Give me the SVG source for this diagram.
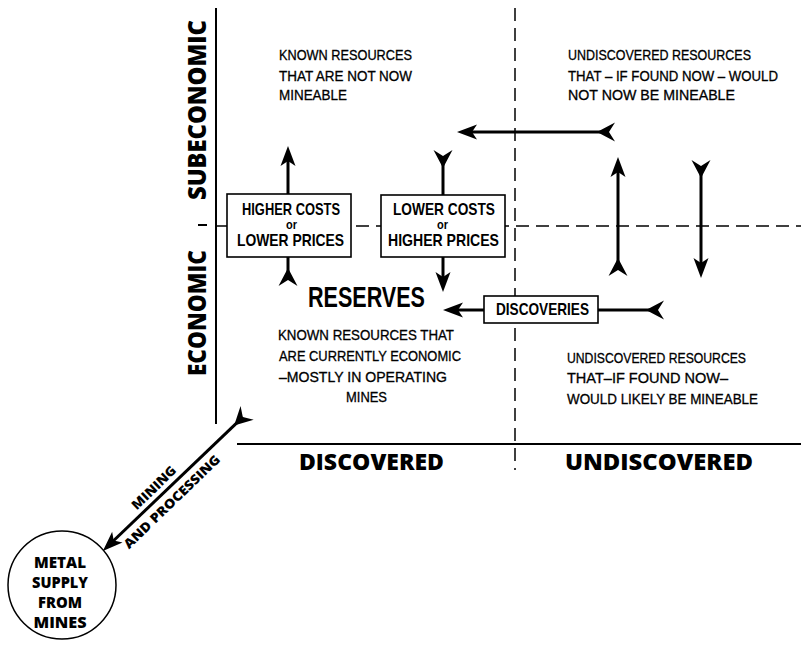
<svg xmlns="http://www.w3.org/2000/svg" width="801" height="645" viewBox="0 0 801 645">
<style>
.axis{stroke:#000;stroke-width:2;fill:none}
.dash{stroke:#000;stroke-width:1.5;stroke-dasharray:13 7;fill:none}
.arrow{stroke:#000;stroke-width:3;fill:none}
.head{marker-end:url(#head)}
.tl{marker-start:url(#tail)}
.box{fill:#fff;stroke:#000;stroke-width:1.6}
.t{font-family:"Liberation Sans",Arial,sans-serif;font-size:14px;fill:#000;stroke:#000;stroke-width:0.3}
.bx{font-family:"Liberation Sans",Arial,sans-serif;font-weight:bold;fill:#000}
.b18{font-size:17px}
.b28{font-size:29px}
.bor{font-size:12px}
.big{font-family:"Open Sans","DejaVu Sans",sans-serif;font-weight:800;fill:#000}
</style>
<defs>
<marker id="head" markerUnits="userSpaceOnUse" orient="auto" markerWidth="40" markerHeight="40" viewBox="-20 -20 40 40" refX="0" refY="0" overflow="visible">
<path d="M10,0 L-10,-7.5 L-5,0 L-10,7.5 Z" fill="#000"/>
</marker>
<marker id="tail" markerUnits="userSpaceOnUse" orient="auto" markerWidth="40" markerHeight="40" viewBox="-20 -20 40 40" refX="0" refY="0" overflow="visible">
<path d="M12,0 L-6,-9.5 L0,0 L-6,9.5 Z" fill="#000"/>
</marker>
</defs>
<rect width="801" height="645" fill="#fff"/>

<g id="grid">
<line class="axis" x1="216" y1="8" x2="216" y2="424"/>
<line class="axis" x1="237" y1="444" x2="801" y2="444"/>
<line class="dash" x1="515" y1="8" x2="515" y2="470"/>
<line class="dash" x1="216" y1="226" x2="801" y2="226"/>
<line class="axis" x1="198" y1="225" x2="207" y2="225"/>
</g>

<g id="axis-labels">
<text class="big" font-size="24" text-anchor="middle" textLength="180" lengthAdjust="spacingAndGlyphs" transform="translate(206,110) rotate(-90)">SUBECONOMIC</text>
<text class="big" font-size="24" text-anchor="middle" textLength="126" lengthAdjust="spacingAndGlyphs" transform="translate(206,313) rotate(-90)">ECONOMIC</text>
<text class="big" font-size="23" x="299" y="470" textLength="145" lengthAdjust="spacingAndGlyphs">DISCOVERED</text>
<text class="big" font-size="23" x="565" y="470" textLength="188" lengthAdjust="spacingAndGlyphs">UNDISCOVERED</text>
</g>

<g id="known-subeconomic">
<text class="t" x="279" y="60" textLength="133" lengthAdjust="spacingAndGlyphs">KNOWN RESOURCES</text>
<text class="t" x="279" y="81" textLength="133" lengthAdjust="spacingAndGlyphs">THAT ARE NOT NOW</text>
<text class="t" x="279" y="100" textLength="68" lengthAdjust="spacingAndGlyphs">MINEABLE</text>
</g>

<g id="undiscovered-subeconomic">
<text class="t" x="568" y="60" textLength="183" lengthAdjust="spacingAndGlyphs">UNDISCOVERED RESOURCES</text>
<text class="t" x="568" y="81" textLength="210" lengthAdjust="spacingAndGlyphs">THAT – IF FOUND NOW – WOULD</text>
<text class="t" x="568" y="100" textLength="167" lengthAdjust="spacingAndGlyphs">NOT NOW BE MINEABLE</text>
</g>

<g id="reserves">
<text class="bx b28" x="308" y="307" textLength="117" lengthAdjust="spacingAndGlyphs">RESERVES</text>
<text class="t" x="278" y="340" textLength="176" lengthAdjust="spacingAndGlyphs">KNOWN RESOURCES THAT</text>
<text class="t" x="279" y="361" textLength="182" lengthAdjust="spacingAndGlyphs">ARE CURRENTLY ECONOMIC</text>
<text class="t" x="279" y="382" textLength="168" lengthAdjust="spacingAndGlyphs">–MOSTLY IN OPERATING</text>
<text class="t" x="346" y="402" textLength="41" lengthAdjust="spacingAndGlyphs">MINES</text>
</g>

<g id="undiscovered-economic">
<text class="t" x="567" y="363" textLength="179" lengthAdjust="spacingAndGlyphs">UNDISCOVERED RESOURCES</text>
<text class="t" x="567" y="383" textLength="161" lengthAdjust="spacingAndGlyphs">THAT–IF FOUND NOW–</text>
<text class="t" x="567" y="404" textLength="191" lengthAdjust="spacingAndGlyphs">WOULD LIKELY BE MINEABLE</text>
</g>

<g id="connectors">
<path class="arrow head tl" d="M609,132 L467,132"/>
<path class="arrow head" d="M288,194 L288,156"/>
<path class="arrow tl" d="M288,280 L288,257"/>
<path class="arrow tl" d="M443,156 L443,195"/>
<path class="arrow head" d="M443,257 L443,282"/>
<path class="arrow head" d="M484,310 L453,310"/>
<path class="arrow tl" d="M658,310 L598,310"/>
<path class="arrow head tl" d="M618,270 L618,167"/>
<path class="arrow head tl" d="M701,166 L701,268"/>
<path class="arrow head tl" d="M242.8,417.1 L110.1,544"/>
</g>

<g id="higher-costs">
<rect class="box" x="227" y="194" width="124" height="63"/>
<text class="bx b18" x="242" y="215" textLength="98" lengthAdjust="spacingAndGlyphs">HIGHER COSTS</text>
<text class="bx bor" x="286" y="229" textLength="11" lengthAdjust="spacingAndGlyphs">or</text>
<text class="bx b18" x="237" y="246" textLength="107" lengthAdjust="spacingAndGlyphs">LOWER PRICES</text>
</g>

<g id="lower-costs">
<rect class="box" x="381" y="195" width="124" height="62"/>
<text class="bx b18" x="393" y="215" textLength="102" lengthAdjust="spacingAndGlyphs">LOWER COSTS</text>
<text class="bx bor" x="437" y="229" textLength="11" lengthAdjust="spacingAndGlyphs">or</text>
<text class="bx b18" x="388" y="246" textLength="111" lengthAdjust="spacingAndGlyphs">HIGHER PRICES</text>
</g>

<g id="discoveries">
<rect class="box" x="484" y="296" width="114" height="27"/>
<text class="bx b18" x="496" y="315" textLength="93" lengthAdjust="spacingAndGlyphs">DISCOVERIES</text>
</g>

<g id="mining-label">
<text class="big" font-size="13" text-anchor="middle" textLength="56" lengthAdjust="spacingAndGlyphs" transform="translate(157,491) rotate(-44)">MINING</text>
<text class="big" font-size="13" text-anchor="middle" textLength="128" lengthAdjust="spacingAndGlyphs" transform="translate(175,505) rotate(-44)">AND PROCESSING</text>
</g>

<g id="metal-supply">
<circle cx="62" cy="585" r="54" fill="#fff" stroke="#000" stroke-width="1.5"/>
<text class="big" font-size="16" x="60" y="568" text-anchor="middle" textLength="52" lengthAdjust="spacingAndGlyphs">METAL</text>
<text class="big" font-size="16" x="60" y="588" text-anchor="middle" textLength="56" lengthAdjust="spacingAndGlyphs">SUPPLY</text>
<text class="big" font-size="16" x="60" y="608" text-anchor="middle" textLength="44" lengthAdjust="spacingAndGlyphs">FROM</text>
<text class="big" font-size="16" x="60" y="628" text-anchor="middle" textLength="53" lengthAdjust="spacingAndGlyphs">MINES</text>
</g>
</svg>
